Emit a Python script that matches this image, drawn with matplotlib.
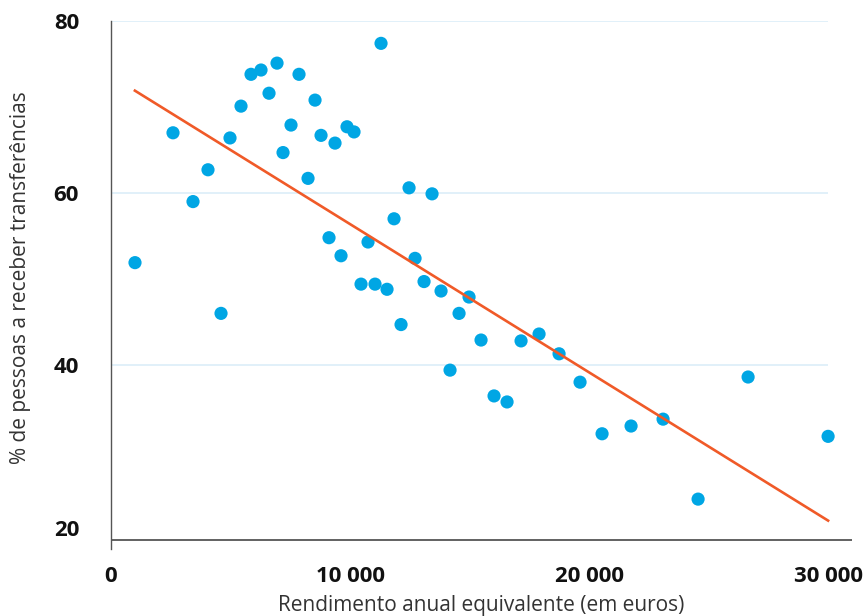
import matplotlib
matplotlib.use("Agg")
import matplotlib.pyplot as plt
import matplotlib.transforms as mtransforms

plt.rcParams['font.family'] = ['Open Sans', 'DejaVu Sans']

income = [1004, 2594, 3431, 4058, 4603, 4979, 5439, 5858, 6276, 6611,
          6946, 7197, 7531, 7866, 8243, 8536, 8787, 9121, 9372, 9623,
          9874, 10167, 10460, 10753, 11046, 11297, 11548, 11841, 12134, 12469,
          12720, 13096, 13431, 13808, 14184, 14561, 14979, 15481, 16025, 16569,
          17155, 17908, 18745, 19623, 20544, 21757, 23096, 24561, 26653, 30000]
share = [51.9, 67.0, 59.0, 62.7, 46.0, 66.4, 70.1, 73.8, 74.3, 71.6,
         75.1, 64.7, 67.9, 73.8, 61.7, 70.8, 66.7, 54.8, 65.8, 52.7,
         67.7, 67.1, 49.4, 54.3, 49.4, 77.4, 48.8, 57.0, 44.7, 60.6,
         52.4, 49.7, 59.9, 48.6, 39.4, 46.0, 47.9, 42.9, 36.4, 35.7,
         42.8, 43.6, 41.3, 38.0, 32.0, 32.9, 33.7, 24.4, 38.6, 31.7]

trend_x = [1000, 30000]
trend_y = [71.9, 21.9]

x_ticks = [0, 10000, 20000, 30000]
x_tick_labels = ["0", "10 000", "20 000", "30 000"]
y_ticks = [20, 40, 60, 80]
y_tick_labels = ["20", "40", "60", "80"]

xlabel = "Rendimento anual equivalente (em euros)"
ylabel = "% de pessoas a receber transferências"

fig = plt.figure(figsize=(8.64, 6.16), dpi=100)
ax = fig.add_axes([111/864, 1-549/616, (852-111)/864, (549-21)/616])
ax.set_xlim(0, 31000)
ax.set_ylim(18.6, 80)

grid_color = "#DCEEF8"
for yv in [40, 60, 80]:
    ax.hlines(yv, 0, 30000, color=grid_color, lw=1.2, zorder=0)
ax.hlines(19.65, 0, 31000, color="#555555", lw=1.3, zorder=1)

ax.scatter(income, share, s=90, color="#00A6E4", edgecolors="none", zorder=3)
ax.plot(trend_x, trend_y, color="#F05A28", lw=1.9, zorder=4)

for s in ["top", "right", "bottom"]:
    ax.spines[s].set_visible(False)
ax.spines["left"].set_color("#555555")
ax.spines["left"].set_linewidth(1.0)

ax.set_xticks(x_ticks)
ax.set_xticklabels(x_tick_labels, fontsize=16, fontweight="bold", color="#111111")
ax.set_yticks(y_ticks)
ax.set_yticklabels(y_tick_labels, fontsize=16, fontweight="bold", color="#111111")
ax.tick_params(axis="x", length=0, pad=12)
ax.tick_params(axis="y", length=0, pad=23)

for lbl in ax.get_yticklabels():
    if lbl.get_text() == "20":
        lbl.set_transform(lbl.get_transform() + mtransforms.ScaledTranslation(0, 9/100, fig.dpi_scale_trans))

fig.text(481/864, 1-605/616, xlabel, fontsize=15, ha="center", va="center", color="#333333")
fig.text(21/864, 1-278/616, ylabel, fontsize=15, ha="center", va="center", rotation=90, color="#333333")

fig.savefig("out.png", dpi=100)
